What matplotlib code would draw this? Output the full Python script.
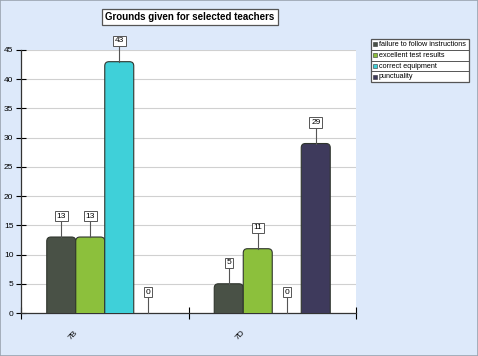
import numpy as np
import matplotlib
matplotlib.use('Agg')
import matplotlib.pyplot as plt
from matplotlib.patches import Rectangle, FancyBboxPatch

plt.rcParams['font.family'] = ['Liberation Sans', 'DejaVu Sans']

categories = ['7B', '7D']
series = ['failure to follow instructions', 'excellent test results',
          'correct equipment', 'punctuality']
values = {
    'failure to follow instructions': [13, 5],
    'excellent test results': [13, 11],
    'correct equipment': [43, 0],
    'punctuality': [0, 29],
}
colors = ['#495146', '#8cc03c', '#3fd0d9', '#3e3a5c']

BG = '#dde9fa'
W, H = 478, 356
fig = plt.figure(figsize=(W / 100, H / 100), dpi=100, facecolor=BG)
fig.patches.append(Rectangle((0, 0), 1, 1, transform=fig.transFigure,
                             fill=False, edgecolor='#9aa4b0', lw=1.2))

ax = fig.add_axes([21 / W, 1 - 313 / H, (356 - 21) / W, (313 - 50) / H])
ax.set_facecolor('white')
ax.set_xlim(0, len(categories))
ax.set_ylim(0, 45)

bw = 29 / 167.5
n = len(series)
px = 45 / 263  # data units per pixel (y)
for i, name in enumerate(series):
    for j, v in enumerate(values[name]):
        xc = j + 0.5 + (i - (n - 1) / 2) * bw
        if v > 0:
            # rounded top corners, bottom hidden below the axis
            ax.add_patch(FancyBboxPatch((xc - bw / 2, -3), bw, v + 3,
                                        boxstyle='round,pad=0,rounding_size=0.025',
                                        mutation_aspect=px / (2 / 335),
                                        facecolor=colors[i], edgecolor='#2f352d',
                                        lw=0.8, zorder=3, clip_on=True))
        ax.plot([xc, xc], [v, v + 16 * px], color='#555555', lw=0.8, zorder=4, clip_on=False)
        ax.text(xc, v + 21 * px, str(v), ha='center', va='center', fontsize=6,
                zorder=5, clip_on=False,
                bbox=dict(boxstyle='square,pad=0.2', fc='white', ec='#555555', lw=0.7))

ax.set_yticks(np.arange(0, 46, 5))
ax.set_xticks([0, 1, 2])
ax.set_xticklabels([])
ax.grid(axis='y', color='#d0d0d0', lw=0.8)
ax.set_axisbelow(True)
ax.tick_params(axis='y', direction='inout', length=7, width=0.8, labelsize=6, pad=2)
ax.tick_params(axis='x', direction='inout', length=8, width=0.8)
for s in ['top', 'right']:
    ax.spines[s].set_visible(False)
for s in ['left', 'bottom']:
    ax.spines[s].set_color('#333333')
    ax.spines[s].set_linewidth(0.9)

for j, c in enumerate(categories):
    ax.text(j + 0.31, -22 * px, c, rotation=45, ha='center', va='center',
            fontsize=6, clip_on=False)

fig.text(190 / W, 1 - 17 / H, 'Grounds given for selected teachers', ha='center', va='center',
         fontsize=7, fontweight='bold',
         bbox=dict(boxstyle='square,pad=0.3', fc='white', ec='#555555', lw=0.9))

# table-style legend
lx0, lx1, ly0, row = 371, 469, 39, 10.8
fig.patches.append(Rectangle((lx0 / W, 1 - (ly0 + row * n) / H), (lx1 - lx0) / W, row * n / H,
                             transform=fig.transFigure, fc='white', ec='#555555', lw=0.9))
for i, name in enumerate(series):
    yc = ly0 + row * (i + 0.5)
    if i > 0:
        fig.lines.append(plt.Line2D([lx0 / W, lx1 / W], [1 - (ly0 + row * i) / H] * 2,
                                    transform=fig.transFigure, color='#555555', lw=0.7))
    fig.patches.append(Rectangle((373 / W, 1 - (yc + 2) / H), 4 / W, 4 / H,
                                 transform=fig.transFigure, fc=colors[i], ec='#333333', lw=0.4))
    fig.text(379 / W, 1 - yc / H, name, ha='left', va='center', fontsize=5.2)

fig.savefig('out.png', dpi=100, facecolor=BG)
